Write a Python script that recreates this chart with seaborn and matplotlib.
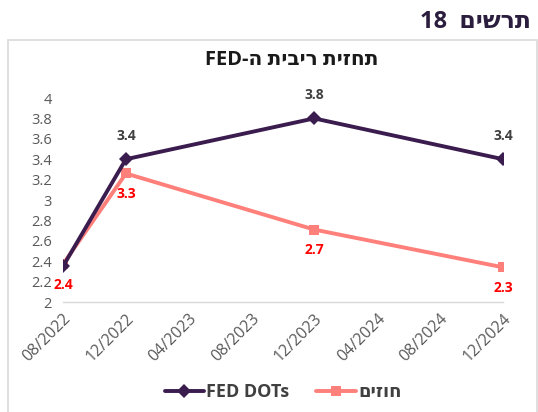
import matplotlib
matplotlib.use("Agg")
import matplotlib.pyplot as plt
from matplotlib.patches import Rectangle
from matplotlib.lines import Line2D
import seaborn as sns
import pandas as pd

sns.set_theme(style="white")
plt.rcParams['font.family'] = ['Open Sans', 'DejaVu Sans']

# Data
dates = ["2022-08-01", "2022-12-01", "2023-12-01", "2024-12-01"]
fed_dots = [2.35, 3.4, 3.8, 3.4]
forecasters = [2.37, 3.26, 2.71, 2.34]
fed_labels = [None, "3.4", "3.8", "3.4"]
fc_labels = ["2.4", "3.3", "2.7", "2.3"]
tick_dates = ["2022-08-01", "2022-12-01", "2023-04-01", "2023-08-01",
              "2023-12-01", "2024-04-01", "2024-08-01", "2024-12-01"]
tick_labels = ["08/2022", "12/2022", "04/2023", "08/2023",
               "12/2023", "04/2024", "08/2024", "12/2024"]
y_ticks = [2, 2.2, 2.4, 2.6, 2.8, 3, 3.2, 3.4, 3.6, 3.8, 4]

def rtl(s):
    # visual order for Hebrew words (matplotlib has no bidi)
    return s[::-1]

fed_name = "FED DOTs"
fc_name = "חוזים"

df = pd.DataFrame({
    "date": pd.to_datetime(dates * 2),
    "value": fed_dots + forecasters,
    "series": [fed_name] * 4 + [fc_name] * 4,
})

c_fed = "#3B1C4E"
c_fc = "#FF7F7A"

fig = plt.figure(figsize=(5.38, 4.12), dpi=100)
ax = fig.add_axes([63 / 538, 110 / 412, 440 / 538, 204 / 412])

sns.lineplot(data=df, x="date", y="value", hue="series", style="series",
             hue_order=[fc_name, fed_name],
             palette={fed_name: c_fed, fc_name: c_fc},
             markers={fed_name: "D", fc_name: "s"}, dashes=False,
             linewidth=2.8, markersize=7.5, markeredgewidth=0, ax=ax, legend=False)

dts = pd.to_datetime(dates)
for d, v, lab in zip(dts, fed_dots, fed_labels):
    if lab:
        ax.annotate(lab, (d, v), xytext=(0, 12), textcoords="offset points",
                    ha="center", va="bottom", fontsize=10, fontweight="bold", color="#404040")
for d, v, lab in zip(dts, forecasters, fc_labels):
    ax.annotate(lab, (d, v), xytext=(0, -10), textcoords="offset points",
                ha="center", va="top", fontsize=10, fontweight="bold", color="#FF0000")

ax.set_ylim(2, 4)
ax.set_xlim(pd.Timestamp(tick_dates[0]), pd.Timestamp(tick_dates[-1]))
ax.set_yticks(y_ticks)
ax.set_yticklabels([f"{t:g}" for t in y_ticks], fontsize=10.5, color="#595959")
ax.set_xticks(pd.to_datetime(tick_dates))
ax.set_xticklabels(tick_labels, rotation=45, ha="right", rotation_mode="anchor",
                   fontsize=11.5, color="#595959")
ax.tick_params(axis="y", length=0, pad=8)
ax.tick_params(axis="x", direction="in", length=5, color="#d9d9d9", pad=6)
ax.set_xlabel("")
ax.set_ylabel("")
for s in ["top", "right", "left"]:
    ax.spines[s].set_visible(False)
ax.spines["bottom"].set_color("#d9d9d9")
ax.spines["bottom"].set_linewidth(1)
ax.grid(False)
ax.patch.set_alpha(0)

# frame
fig.patches.append(Rectangle((8 / 538, -0.01), 529 / 538, (412 - 40) / 412 + 0.01,
                             transform=fig.transFigure, fill=False,
                             edgecolor="#d9d9d9", linewidth=1.2))

fig.text(531 / 538, 1 - 22 / 412, "18  " + rtl("תרשים"), ha="right", va="center",
         fontsize=17, fontweight="bold", color="#2B1D3D")
title = "FED-" + "ה" + " " + rtl("ריבית") + " " + rtl("תחזית")
fig.text(292 / 538, 1 - 60 / 412, title, ha="center", va="center",
         fontsize=14.5, fontweight="bold", color="#1a1a1a")

handles = [Line2D([], [], color=c_fed, marker="D", markersize=7, linewidth=2.8, markeredgewidth=0),
           Line2D([], [], color=c_fc, marker="s", markersize=7, linewidth=2.8, markeredgewidth=0)]
fig.legend(handles, [fed_name, rtl(fc_name)], loc="center", bbox_to_anchor=(283 / 538, 1 - 392 / 412),
           ncol=2, frameon=False, handlelength=2.2, columnspacing=1.5,
           handletextpad=0.1, labelcolor="#404040",
           prop={"weight": "bold", "size": 13})

fig.savefig("out.png", dpi=100)
